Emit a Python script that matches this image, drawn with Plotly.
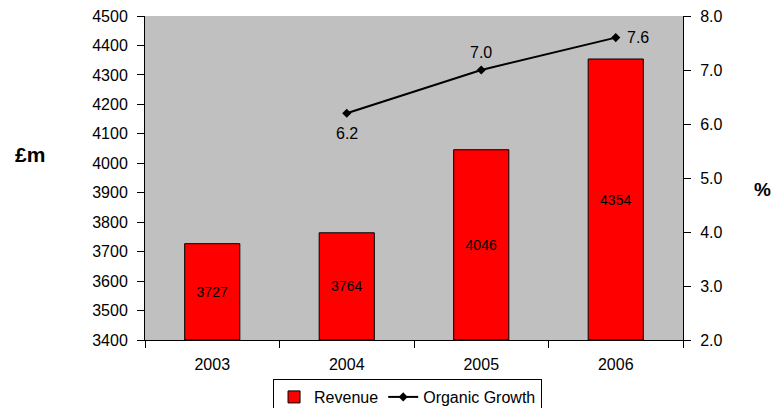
import plotly.graph_objects as go

years = ["2003", "2004", "2005", "2006"]
revenue = [3727, 3764, 4046, 4354]
growth_years = ["2004", "2005", "2006"]
organic_growth = [6.2, 7.0, 7.6]
# label offsets for the growth labels (below, above, right)
growth_label_shift = [(0, -20), (0, 18), (22, 0)]

axis_base = 3400
FONT = "Liberation Sans, Arial, sans-serif"

fig = go.Figure()
fig.add_trace(go.Bar(
    x=years, y=[v - axis_base for v in revenue], base=axis_base,
    name="Revenue", marker=dict(color="#FF0000", line=dict(color="black", width=1)),
    text=[str(v) for v in revenue], textposition="inside", insidetextanchor="middle",
    textfont=dict(family=FONT, size=14, color="black"), textangle=0,
    width=0.41,
))
fig.add_trace(go.Scatter(
    x=growth_years, y=organic_growth, yaxis="y2", name="Organic Growth",
    mode="lines+markers", line=dict(color="black", width=2),
    marker=dict(symbol="diamond", size=7, color="black"),
))

annotations = [
    dict(text="<b>£m</b>", xref="paper", yref="paper", x=-0.214, y=0.571,
         showarrow=False, font=dict(size=21), xanchor="center", yanchor="middle"),
    dict(text="<b>%</b>", xref="paper", yref="paper", x=1.148, y=0.463,
         showarrow=False, font=dict(size=19), xanchor="center", yanchor="middle"),
]
for yr, val, (dx, dy) in zip(growth_years, organic_growth, growth_label_shift):
    annotations.append(dict(
        text=f"{val:.1f}", x=years.index(yr), y=val, xref="x", yref="y2", showarrow=False,
        xshift=dx, yshift=dy, font=dict(size=16), xanchor="center", yanchor="middle",
    ))

fig.update_layout(
    width=773, height=400,
    margin=dict(l=137, r=98, t=8, b=68, autoexpand=False),
    paper_bgcolor="white", plot_bgcolor="#C0C0C0",
    font=dict(family=FONT, size=16, color="black"),
    bargap=0.59,
    xaxis=dict(type="category", categoryorder="array", categoryarray=years,
               range=[-0.5, len(years) - 0.5],
               showline=True, linecolor="black", linewidth=1,
               ticks="outside", tickson="boundaries", ticklen=7, tickcolor="black",
               showgrid=False, tickfont=dict(size=16), automargin=False,
               ticklabelstandoff=10),
    yaxis=dict(range=[3400, 4500], dtick=100, showline=True, linecolor="black",
               ticks="outside", ticklen=7, tickcolor="black", showgrid=False,
               zeroline=False, tickfont=dict(size=16), automargin=False,
               ticklabelstandoff=6, ticklabeloverflow="allow"),
    yaxis2=dict(range=[2, 8], dtick=1, tickformat=".1f", overlaying="y", side="right",
                showline=True, linecolor="black", ticks="outside", ticklen=7,
                tickcolor="black", showgrid=False, zeroline=False, tickfont=dict(size=16),
                automargin=False, ticklabelstandoff=6, ticklabeloverflow="allow"),
    legend=dict(orientation="h", x=0.488, xanchor="center", y=-0.1204, yanchor="top",
                bordercolor="black", borderwidth=1, bgcolor="white",
                font=dict(size=16), itemwidth=30, tracegroupgap=0),
    showlegend=True,
    annotations=annotations,
)

fig.write_html("out.html")
